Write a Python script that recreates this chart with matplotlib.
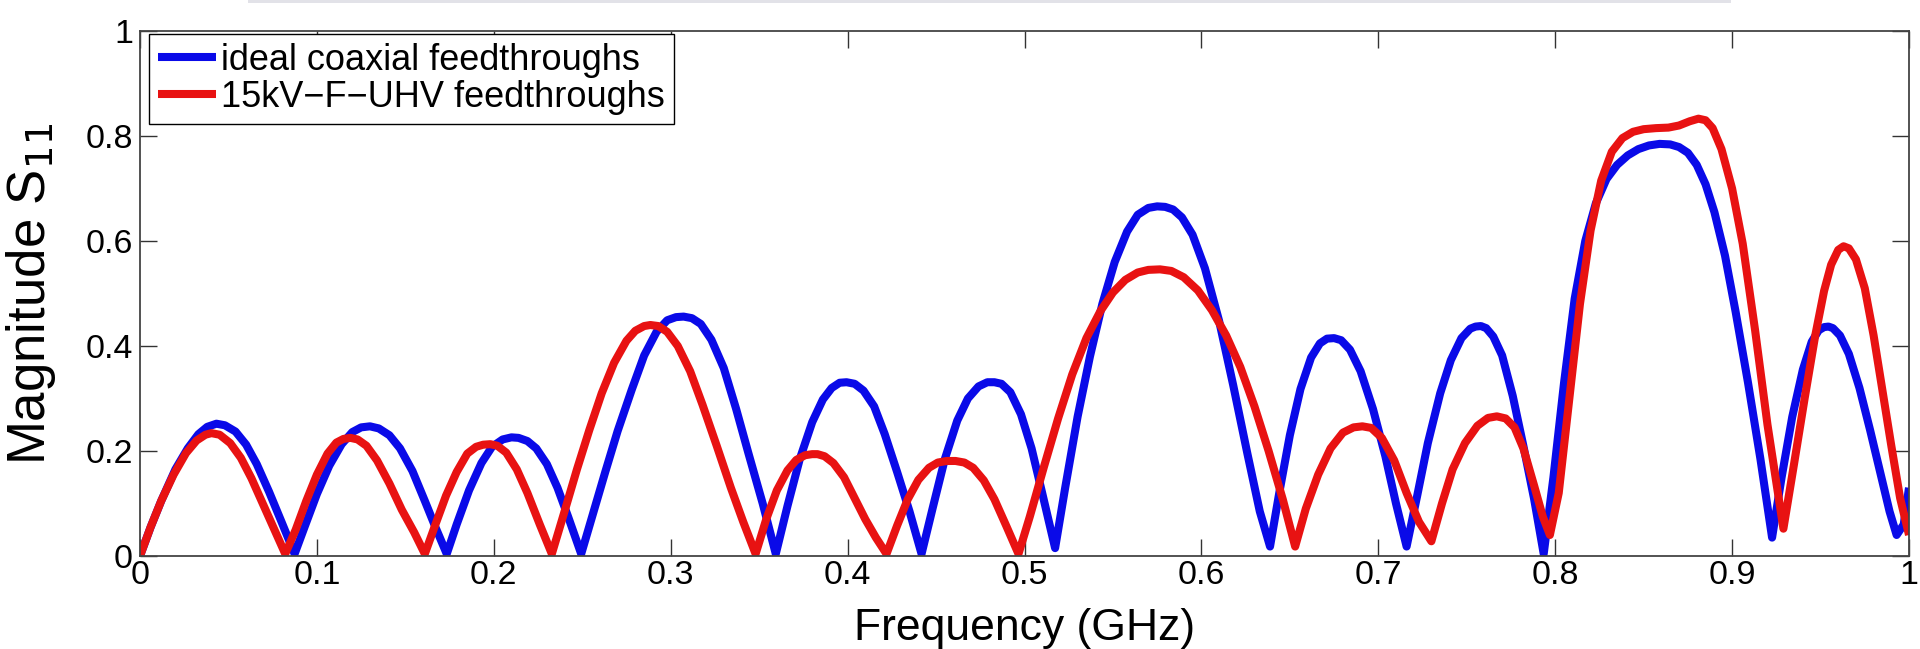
import matplotlib
matplotlib.use("Agg")
import matplotlib.pyplot as plt
from matplotlib.patches import Rectangle

# ---- data ----
freq_ideal = [0.000, 0.006, 0.012, 0.020, 0.027, 0.033, 0.038, 0.0432, 0.048, 0.054, 0.060, 0.066, 0.073, 0.080, 0.0874,
              0.093, 0.100, 0.107, 0.114, 0.120, 0.125, 0.130, 0.135, 0.141, 0.147, 0.154, 0.161, 0.167, 0.1734,
              0.179, 0.186, 0.193, 0.199, 0.205, 0.210, 0.214, 0.219, 0.224, 0.230, 0.236, 0.242, 0.2494,
              0.256, 0.263, 0.270, 0.278, 0.285, 0.292, 0.298, 0.303, 0.3073, 0.312, 0.317, 0.323, 0.330, 0.337, 0.344, 0.352, 0.3594,
              0.366, 0.373, 0.380, 0.386, 0.391, 0.3955, 0.3994, 0.404, 0.409, 0.415, 0.421, 0.428, 0.435, 0.4418,
              0.448, 0.455, 0.462, 0.468, 0.474, 0.479, 0.483, 0.487, 0.492, 0.498, 0.504, 0.510, 0.5173,
              0.523, 0.530, 0.537, 0.544, 0.551, 0.558, 0.564, 0.570, 0.575, 0.5795, 0.584, 0.589, 0.595, 0.602, 0.610, 0.618, 0.626, 0.633, 0.6388,
              0.644, 0.650, 0.656, 0.662, 0.667, 0.671, 0.675, 0.679, 0.684, 0.690, 0.697, 0.704, 0.710, 0.716,
              0.722, 0.728, 0.735, 0.741, 0.747, 0.752, 0.755, 0.758, 0.761, 0.765, 0.770, 0.776, 0.782, 0.788, 0.7935,
              0.799, 0.805, 0.811, 0.817, 0.823, 0.829, 0.835, 0.841, 0.847, 0.853, 0.859, 0.865, 0.870, 0.875, 0.880, 0.885, 0.890, 0.896, 0.902, 0.909, 0.916, 0.9226,
              0.928, 0.934, 0.940, 0.945, 0.949, 0.952, 0.9545, 0.957, 0.961, 0.966, 0.972, 0.978, 0.984, 0.989, 0.993, 0.997, 1.000]
mag_ideal = [0.000, 0.055, 0.105, 0.165, 0.205, 0.232, 0.246, 0.252, 0.249, 0.237, 0.212, 0.175, 0.122, 0.065, 0.004,
             0.055, 0.118, 0.172, 0.213, 0.236, 0.245, 0.247, 0.243, 0.230, 0.205, 0.162, 0.105, 0.055, 0.004,
             0.060, 0.125, 0.177, 0.208, 0.222, 0.226, 0.225, 0.219, 0.205, 0.175, 0.130, 0.075, 0.004,
             0.080, 0.160, 0.238, 0.317, 0.382, 0.427, 0.449, 0.455, 0.456, 0.453, 0.442, 0.412, 0.358, 0.280, 0.195, 0.100, 0.004,
             0.095, 0.185, 0.255, 0.298, 0.320, 0.330, 0.331, 0.328, 0.315, 0.285, 0.232, 0.160, 0.085, 0.004,
             0.090, 0.185, 0.258, 0.300, 0.323, 0.331, 0.331, 0.328, 0.312, 0.270, 0.205, 0.120, 0.015,
             0.130, 0.265, 0.380, 0.480, 0.560, 0.618, 0.650, 0.663, 0.666, 0.665, 0.660, 0.645, 0.612, 0.548, 0.448, 0.325, 0.195, 0.085, 0.018,
             0.120, 0.230, 0.318, 0.378, 0.405, 0.414, 0.415, 0.411, 0.393, 0.352, 0.280, 0.190, 0.100, 0.018,
             0.115, 0.215, 0.310, 0.373, 0.415, 0.433, 0.437, 0.438, 0.434, 0.418, 0.382, 0.305, 0.210, 0.110, 0.004,
             0.150, 0.330, 0.490, 0.600, 0.672, 0.718, 0.745, 0.763, 0.775, 0.782, 0.785, 0.784, 0.779, 0.768, 0.745, 0.708, 0.655, 0.572, 0.465, 0.330, 0.185, 0.035,
             0.150, 0.265, 0.355, 0.408, 0.430, 0.436, 0.437, 0.434, 0.420, 0.385, 0.320, 0.240, 0.155, 0.085, 0.040, 0.060, 0.130]

freq_uhv = [0.000, 0.006, 0.012, 0.019, 0.026, 0.032, 0.037, 0.0404, 0.045, 0.051, 0.057, 0.063, 0.070, 0.076, 0.0821,
            0.088, 0.094, 0.100, 0.106, 0.111, 0.115, 0.119, 0.123, 0.128, 0.134, 0.141, 0.148, 0.155, 0.161,
            0.167, 0.173, 0.179, 0.185, 0.190, 0.194, 0.198, 0.202, 0.207, 0.213, 0.219, 0.226, 0.2328,
            0.240, 0.247, 0.254, 0.261, 0.268, 0.275, 0.280, 0.285, 0.2885, 0.293, 0.298, 0.304, 0.311, 0.318, 0.326, 0.334, 0.341, 0.348,
            0.354, 0.360, 0.366, 0.371, 0.376, 0.380, 0.383, 0.387, 0.392, 0.398, 0.404, 0.410, 0.416, 0.422,
            0.428, 0.434, 0.440, 0.446, 0.451, 0.456, 0.461, 0.466, 0.471, 0.477, 0.483, 0.490, 0.4966,
            0.503, 0.511, 0.519, 0.527, 0.535, 0.543, 0.550, 0.557, 0.564, 0.570, 0.5766, 0.583, 0.590, 0.598, 0.606, 0.614, 0.622, 0.630, 0.638, 0.646, 0.653,
            0.659, 0.666, 0.673, 0.680, 0.686, 0.691, 0.696, 0.702, 0.709, 0.716, 0.723, 0.730,
            0.736, 0.742, 0.749, 0.756, 0.762, 0.767, 0.772, 0.777, 0.782, 0.788, 0.793, 0.797,
            0.802, 0.808, 0.814, 0.820, 0.826, 0.832, 0.838, 0.844, 0.850, 0.857, 0.864, 0.870, 0.876, 0.881, 0.885, 0.889, 0.894, 0.900, 0.906, 0.913, 0.920, 0.929,
            0.935, 0.941, 0.947, 0.952, 0.956, 0.960, 0.963, 0.966, 0.970, 0.975, 0.980, 0.985, 0.990, 0.995, 1.000]
mag_uhv = [0.000, 0.055, 0.105, 0.155, 0.196, 0.220, 0.231, 0.234, 0.231, 0.215, 0.187, 0.148, 0.095, 0.050, 0.004,
           0.050, 0.105, 0.155, 0.195, 0.216, 0.223, 0.225, 0.222, 0.210, 0.182, 0.138, 0.088, 0.045, 0.004,
           0.060, 0.115, 0.160, 0.195, 0.208, 0.212, 0.213, 0.210, 0.197, 0.165, 0.120, 0.060, 0.004,
           0.085, 0.165, 0.240, 0.310, 0.368, 0.410, 0.429, 0.438, 0.440, 0.438, 0.427, 0.400, 0.352, 0.288, 0.210, 0.130, 0.065, 0.004,
           0.070, 0.125, 0.163, 0.183, 0.192, 0.194, 0.194, 0.190, 0.177, 0.150, 0.110, 0.070, 0.035, 0.004,
           0.058, 0.108, 0.145, 0.168, 0.178, 0.181, 0.181, 0.178, 0.168, 0.144, 0.108, 0.055, 0.004,
           0.075, 0.170, 0.262, 0.346, 0.415, 0.467, 0.502, 0.526, 0.540, 0.545, 0.546, 0.543, 0.531, 0.506, 0.468, 0.420, 0.360, 0.285, 0.200, 0.108, 0.018,
           0.090, 0.155, 0.205, 0.235, 0.245, 0.247, 0.244, 0.225, 0.182, 0.120, 0.065, 0.028,
           0.100, 0.165, 0.215, 0.248, 0.263, 0.266, 0.262, 0.245, 0.205, 0.135, 0.075, 0.040,
           0.120, 0.300, 0.480, 0.620, 0.715, 0.770, 0.796, 0.808, 0.813, 0.815, 0.816, 0.820, 0.828, 0.833, 0.830, 0.815, 0.775, 0.700, 0.595, 0.430, 0.250, 0.052,
           0.175, 0.300, 0.420, 0.505, 0.555, 0.583, 0.590, 0.586, 0.565, 0.510, 0.420, 0.315, 0.210, 0.110, 0.040]

labels = ["ideal coaxial feedthroughs", "15kV\u2212F\u2212UHV feedthroughs"]
xticks = [0, 0.1, 0.2, 0.3, 0.4, 0.5, 0.6, 0.7, 0.8, 0.9, 1]
xticklabels = ["0", "0.1", "0.2", "0.3", "0.4", "0.5", "0.6", "0.7", "0.8", "0.9", "1"]
yticks = [0, 0.2, 0.4, 0.6, 0.8, 1]
yticklabels = ["0", "0.2", "0.4", "0.6", "0.8", "1"]

plt.rcParams['font.family'] = ['Liberation Sans', 'DejaVu Sans']

W, H = 1920, 649
fig = plt.figure(figsize=(W / 100, H / 100), dpi=100)
fig.patches.append(Rectangle((248 / W, 1 - 3 / H), (1731 - 248) / W, 3 / H,
                             transform=fig.transFigure, facecolor="#e2e2e8",
                             edgecolor="none", zorder=0))

ax_left, ax_right, ax_top, ax_bottom = 140, 1909, 31, 556
ax = fig.add_axes([ax_left / W, (H - ax_bottom) / H, (ax_right - ax_left) / W, (ax_bottom - ax_top) / H])
ax.plot(freq_ideal, mag_ideal, color="#0a0ae8", lw=5.8, label=labels[0],
        solid_joinstyle="round", solid_capstyle="butt")
ax.plot(freq_uhv, mag_uhv, color="#e81212", lw=5.8, label=labels[1],
        solid_joinstyle="round", solid_capstyle="butt")

ax.set_xlim(0, 1)
ax.set_ylim(0, 1)
ax.set_xticks(xticks)
ax.set_xticklabels(xticklabels)
ax.set_yticks(yticks)
ax.set_yticklabels(yticklabels)
ax.tick_params(direction="in", length=12, width=1, colors="#333333",
               labelcolor="black", labelsize=24.5, top=True, right=True)
ax.tick_params(axis="x", pad=3)
ax.tick_params(axis="y", pad=5)
for s in ax.spines.values():
    s.set_color("#444444")
    s.set_linewidth(1.3)

fig.text((ax_left + ax_right) / 2 / W, 0.0, "Frequency (GHz)", fontsize=32,
         ha="center", va="bottom")
fig.text(31 / W, (H - (ax_top + ax_bottom) / 2) / H, "Magnitude S$_{11}$", fontsize=38,
         rotation=90, ha="center", va="center")

leg = ax.legend(loc="upper left", bbox_to_anchor=(9 / 1769, 1 - 3 / 525),
                borderaxespad=0, fontsize=26, frameon=True, fancybox=False,
                edgecolor="black", framealpha=1, handlelength=1.6,
                handletextpad=0.15, labelspacing=0.05, borderpad=0.25)
leg.get_frame().set_linewidth(1.0)

fig.savefig("out.png", dpi=100, facecolor="white")
